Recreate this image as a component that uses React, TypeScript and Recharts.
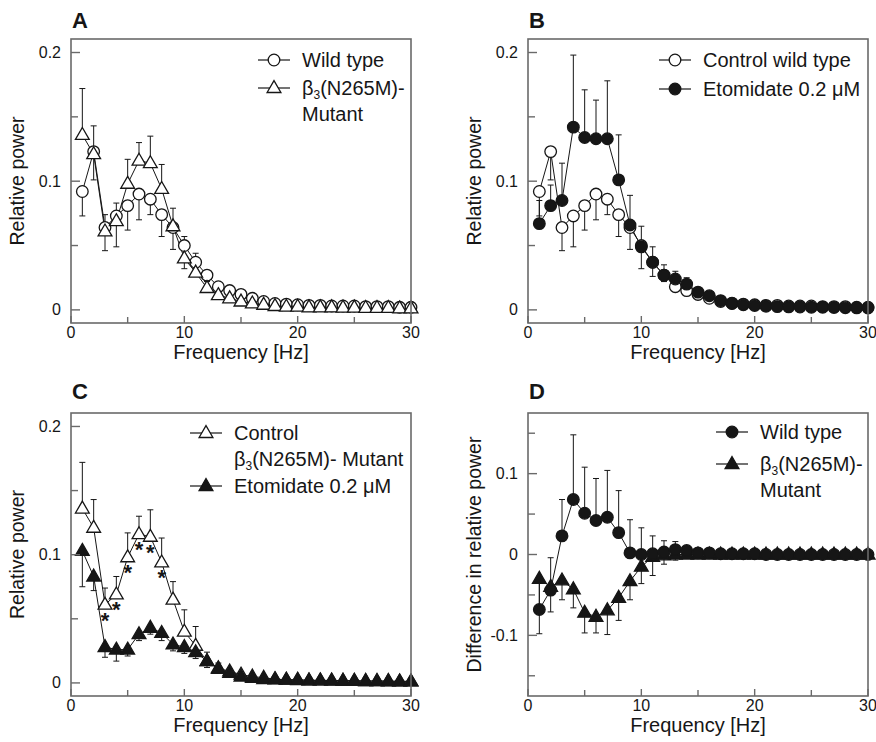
import React from 'react'
import { LineChart, Line, XAxis, YAxis, ErrorBar } from 'recharts'

const FONT = '"Liberation Sans", Arial, Helvetica, sans-serif'
const INK = '#161616'
const FRAME = '#6a6a6a'

// frequency bins (Hz)
const freq = [1, 2, 3, 4, 5, 6, 7, 8, 9, 10, 11, 12, 13, 14, 15, 16, 17, 18, 19, 20, 21, 22, 23, 24, 25, 26, 27, 28, 29, 30]

// wild type, control (panels A and B, open circles), SEM drawn downward
const wildType = [0.092, 0.123, 0.064, 0.073, 0.081, 0.09, 0.086, 0.074, 0.064, 0.05, 0.037, 0.027, 0.018, 0.015, 0.012, 0.009, 0.0065, 0.005, 0.0045, 0.004, 0.0035, 0.0035, 0.003, 0.003, 0.003, 0.0025, 0.0025, 0.0025, 0.002, 0.002]
const wildTypeErr = [0.019, 0.022, 0.018, 0.024, 0.019, 0.02, 0.012, 0.017, 0.017, 0.018, 0.011, 0.005, 0.003, 0.003, 0.002, 0.001, 0, 0, 0, 0, 0, 0, 0, 0, 0, 0, 0, 0, 0, 0]

// beta3(N265M) mutant, control (panels A and C, open triangles), SEM drawn upward
const mutant = [0.136, 0.121, 0.061, 0.069, 0.098, 0.116, 0.114, 0.094, 0.065, 0.04, 0.029, 0.017, 0.0115, 0.009, 0.0065, 0.005, 0.004, 0.003, 0.0025, 0.0025, 0.002, 0.002, 0.002, 0.0018, 0.0018, 0.0015, 0.0015, 0.0015, 0.0012, 0.0012]
const mutantErr = [0.036, 0.022, 0.013, 0.014, 0.019, 0.014, 0.021, 0.019, 0.014, 0.017, 0.015, 0.007, 0.004, 0.002, 0.001, 0, 0, 0, 0, 0, 0, 0, 0, 0, 0, 0, 0, 0, 0, 0]

// wild type + etomidate 0.2 uM (panel B, filled circles), SEM upward
const etoWild = [0.067, 0.081, 0.085, 0.142, 0.134, 0.133, 0.133, 0.101, 0.066, 0.049, 0.037, 0.027, 0.024, 0.02, 0.0138, 0.011, 0.0072, 0.0052, 0.004, 0.0034, 0.0028, 0.0025, 0.0023, 0.0022, 0.002, 0.002, 0.0018, 0.0017, 0.0016, 0.0015]
const etoWildErr = [0.018, 0.016, 0.029, 0.056, 0.037, 0.03, 0.045, 0.035, 0.023, 0.016, 0.012, 0.008, 0.006, 0.005, 0.002, 0.001, 0, 0, 0, 0, 0, 0, 0, 0, 0, 0, 0, 0, 0, 0]

// mutant + etomidate 0.2 uM (panel C, filled triangles), SEM downward
const etoMutant = [0.103, 0.083, 0.028, 0.026, 0.026, 0.038, 0.043, 0.039, 0.03, 0.028, 0.024, 0.017, 0.011, 0.0078, 0.005, 0.004, 0.003, 0.0028, 0.0025, 0.0022, 0.002, 0.002, 0.0018, 0.0017, 0.0016, 0.0015, 0.0014, 0.0013, 0.0012, 0.0012]
const etoMutantErr = [0.028, 0.011, 0.008, 0.009, 0.005, 0.005, 0.005, 0.006, 0.005, 0.005, 0.005, 0.005, 0.002, 0.001, 0, 0, 0, 0, 0, 0, 0, 0, 0, 0, 0, 0, 0, 0, 0, 0]

// panel D: difference etomidate - control
const diffWild = [-0.068, -0.044, 0.023, 0.068, 0.051, 0.042, 0.046, 0.027, 0.002, 0, 0.001, 0.003, 0.006, 0.005, 0.002, 0.002, 0.001, 0.001, 0.001, 0.001, 0, 0, 0, 0, 0, 0, 0, 0, 0, 0]
const diffWildErr = [0.04, 0.04, 0.045, 0.08, 0.057, 0.052, 0.058, 0.052, 0.041, 0.033, 0.022, 0.014, 0.01, 0.005, 0, 0, 0, 0, 0, 0, 0, 0, 0, 0, 0, 0, 0, 0, 0, 0]
const diffMutant = [-0.03, -0.04, -0.032, -0.043, -0.072, -0.077, -0.069, -0.0535, -0.033, -0.015, -0.003, -0.001, 0, 0, 0, 0, 0, 0, 0, 0, 0, 0, 0, 0, 0, 0, 0, 0, 0, 0]
const diffMutantErr = [0.068, 0.031, 0.024, 0.023, 0.025, 0.02, 0.03, 0.028, 0.023, 0.021, 0.023, 0.011, 0.007, 0.002, 0, 0, 0, 0, 0, 0, 0, 0, 0, 0, 0, 0, 0, 0, 0, 0]

// significant bins marked with * in panel C
const sigFreqC = [3, 4, 5, 6, 7, 8]

const xTicks = [0, 5, 10, 15, 20, 25, 30]
const powerTicks = [0, 0.05, 0.1, 0.15, 0.2]
const diffTicks = [-0.15, -0.1, -0.05, 0, 0.05, 0.1, 0.15]

const rows = freq.map((f, i) => ({
  f,
  wt: wildType[i],
  wtErr: [wildTypeErr[i], 0],
  mut: mutant[i],
  mutErr: [0, mutantErr[i]],
  etoWt: etoWild[i],
  etoWtErr: [0, etoWildErr[i]],
  etoMut: etoMutant[i],
  etoMutErr: [etoMutantErr[i], 0],
  dWt: diffWild[i],
  dWtErr: [0, diffWildErr[i]],
  dMut: diffMutant[i],
  dMutErr: [diffMutantErr[i], 0],
}))

type Shape = 'circle' | 'triangle'

function Marker({ cx, cy, shape, filled }: { cx: number; cy: number; shape: Shape; filled: boolean }) {
  const fill = filled ? INK : '#fff'
  if (shape === 'circle') {
    return <circle cx={cx} cy={cy} r={5.8} fill={fill} stroke={INK} strokeWidth={1.3} />
  }
  return (
    <path
      d={`M${cx},${cy - 7.4} L${cx + 6.9},${cy + 4.5} L${cx - 6.9},${cy + 4.5} Z`}
      fill={fill}
      stroke={INK}
      strokeWidth={1.3}
    />
  )
}

const dotOf = (shape: Shape, filled: boolean, stars?: boolean) => (p: any) => {
  if (p.cx == null || p.cy == null) return <g key={`e${p.index}`} />
  const star = stars && sigFreqC.includes(freq[p.index])
  return (
    <g key={`d${p.index}`}>
      <Marker cx={p.cx} cy={p.cy} shape={shape} filled={filled} />
      {star && (
        <text x={p.cx} y={p.cy + 23} textAnchor="middle" fontSize={22} fontWeight="bold" fill={INK} fontFamily={FONT}>
          *
        </text>
      )}
    </g>
  )
}

function XTick(props: any) {
  const { x, y, payload } = props
  const v = payload.value
  const major = v % 10 === 0
  return (
    <g>
      <line x1={x} x2={x} y1={y} y2={y - (major ? 7 : 6)} stroke={FRAME} strokeWidth={1.4} />
      {major && (
        <text x={x} y={y + 15} textAnchor="middle" fontSize={16} fill={INK} fontFamily={FONT}>
          {v}
        </text>
      )}
    </g>
  )
}

function YTick(props: any) {
  const { x, y, payload } = props
  const v = payload.value
  const major = Math.abs(v * 10 - Math.round(v * 10)) < 1e-6
  return (
    <g>
      <line x1={x} x2={x + (major ? 9 : 7)} y1={y} y2={y} stroke={FRAME} strokeWidth={1.4} />
      {major && (
        <text x={x - 10} y={y + 5.5} textAnchor="end" fontSize={16} fill={INK} fontFamily={FONT}>
          {String(Math.round(v * 10) / 10)}
        </text>
      )}
    </g>
  )
}

const Beta3 = ({ rest }: { rest: string }) => (
  <>
    <tspan>β</tspan>
    <tspan fontSize={12} dy={4}>3</tspan>
    <tspan dy={-4}>{rest}</tspan>
  </>
)

type Series = { key: string; err: string; shape: Shape; filled: boolean; stars?: boolean }
type LegendRow = { shape: Shape; filled: boolean; y: number; lines: React.ReactNode[] }

type PanelProps = {
  ox: number
  oy: number
  g: { left: number; top: number; right: number; bottom: number }
  letter: string
  yLabel: string
  yDomain: [number, number]
  yTicks: number[]
  series: Series[]
  legendX: number
  legend: LegendRow[]
}

const W = 438
const H = 371

function Panel({ ox, oy, g, letter, yLabel, yDomain, yTicks, series, legendX, legend }: PanelProps) {
  const midX = (g.left + g.right) / 2
  const midY = (g.top + g.bottom) / 2
  const ylx = g.left - 47
  const xlabelY = Math.max(358.5, g.bottom + 35.5)
  return (
    <div style={{ position: 'absolute', left: ox, top: oy, width: W, height: H }}>
      <LineChart width={W} height={H} data={rows} margin={{ top: g.top, right: W - g.right, bottom: 0, left: 0 }}>
        <XAxis
          dataKey="f"
          type="number"
          domain={[0, 30]}
          ticks={xTicks}
          interval={0}
          height={H - g.bottom}
          tickSize={0}
          tickMargin={0}
          tickLine={false}
          axisLine={false}
          tick={(p: any) => <XTick {...p} />}
        />
        <YAxis
          type="number"
          domain={yDomain}
          allowDataOverflow
          ticks={yTicks}
          interval={0}
          width={g.left}
          tickSize={0}
          tickMargin={0}
          tickLine={false}
          axisLine={false}
          tick={(p: any) => <YTick {...p} />}
        />
        {series.map((s) => (
          <Line
            key={s.key}
            dataKey={s.key}
            stroke={INK}
            strokeWidth={1}
            dot={dotOf(s.shape, s.filled, s.stars)}
            activeDot={false}
            isAnimationActive={false}
            legendType="none"
          >
            <ErrorBar dataKey={s.err} direction="y" width={3} stroke={INK} strokeWidth={1} />
          </Line>
        ))}
      </LineChart>
      <svg
        width={W}
        height={H}
        style={{ position: 'absolute', left: 0, top: 0, pointerEvents: 'none', fontFamily: FONT }}
      >
        <rect
          x={g.left}
          y={g.top}
          width={g.right - g.left}
          height={g.bottom - g.top}
          fill="none"
          stroke={FRAME}
          strokeWidth={1.6}
        />
        <text x={g.left + 1} y={28} fontSize={22} fontWeight="bold" fill={INK}>
          {letter}
        </text>
        <text x={midX} y={xlabelY} fontSize={20} textAnchor="middle" fill={INK}>
          Frequency [Hz]
        </text>
        <text x={ylx} y={midY} fontSize={19.5} textAnchor="middle" fill={INK} transform={`rotate(-90 ${ylx} ${midY})`}>
          {yLabel}
        </text>
        {legend.map((r, i) => (
          <g key={i}>
            <line x1={legendX} x2={legendX + 32} y1={r.y} y2={r.y} stroke={INK} strokeWidth={1.2} />
            <Marker cx={legendX + 16} cy={r.y} shape={r.shape} filled={r.filled} />
            {r.lines.map((ln, j) => (
              <text key={j} x={legendX + 44} y={r.y + 7 + j * 26} fontSize={20} fill={INK}>
                {ln}
              </text>
            ))}
          </g>
        ))}
      </svg>
    </div>
  )
}

export default function App() {
  const powerDomain: [number, number] = [-0.0102, 0.2105]
  const diffDomain: [number, number] = [-0.175, 0.175]
  return (
    <div style={{ position: 'absolute', left: 0, top: 0, width: 876, height: 742, background: '#fff', fontFamily: FONT }}>
      <Panel
        ox={0}
        oy={0}
        g={{ left: 71, top: 39, right: 411, bottom: 323 }}
        letter="A"
        yLabel="Relative power"
        yDomain={powerDomain}
        yTicks={powerTicks}
        series={[
          { key: 'wt', err: 'wtErr', shape: 'circle', filled: false },
          { key: 'mut', err: 'mutErr', shape: 'triangle', filled: false },
        ]}
        legendX={258}
        legend={[
          { shape: 'circle', filled: false, y: 60, lines: ['Wild type'] },
          { shape: 'triangle', filled: false, y: 88, lines: [<Beta3 rest="(N265M)-" />, 'Mutant'] },
        ]}
      />
      <Panel
        ox={438}
        oy={0}
        g={{ left: 90, top: 39, right: 430, bottom: 323 }}
        letter="B"
        yLabel="Relative power"
        yDomain={powerDomain}
        yTicks={powerTicks}
        series={[
          { key: 'wt', err: 'wtErr', shape: 'circle', filled: false },
          { key: 'etoWt', err: 'etoWtErr', shape: 'circle', filled: true },
        ]}
        legendX={221}
        legend={[
          { shape: 'circle', filled: false, y: 60, lines: ['Control wild type'] },
          { shape: 'circle', filled: true, y: 89, lines: ['Etomidate 0.2 μM'] },
        ]}
      />
      <Panel
        ox={0}
        oy={371}
        g={{ left: 71, top: 42, right: 411, bottom: 325 }}
        letter="C"
        yLabel="Relative power"
        yDomain={powerDomain}
        yTicks={powerTicks}
        series={[
          { key: 'mut', err: 'mutErr', shape: 'triangle', filled: false, stars: true },
          { key: 'etoMut', err: 'etoMutErr', shape: 'triangle', filled: true },
        ]}
        legendX={190}
        legend={[
          { shape: 'triangle', filled: false, y: 62, lines: ['Control', <Beta3 rest="(N265M)- Mutant" />] },
          { shape: 'triangle', filled: true, y: 115, lines: ['Etomidate 0.2 μM'] },
        ]}
      />
      <Panel
        ox={438}
        oy={371}
        g={{ left: 90, top: 42, right: 430, bottom: 325 }}
        letter="D"
        yLabel="Difference in relative power"
        yDomain={diffDomain}
        yTicks={diffTicks}
        series={[
          { key: 'dMut', err: 'dMutErr', shape: 'triangle', filled: true },
          { key: 'dWt', err: 'dWtErr', shape: 'circle', filled: true },
        ]}
        legendX={278}
        legend={[
          { shape: 'circle', filled: true, y: 61, lines: ['Wild type'] },
          { shape: 'triangle', filled: true, y: 93, lines: [<Beta3 rest="(N265M)-" />, 'Mutant'] },
        ]}
      />
    </div>
  )
}
